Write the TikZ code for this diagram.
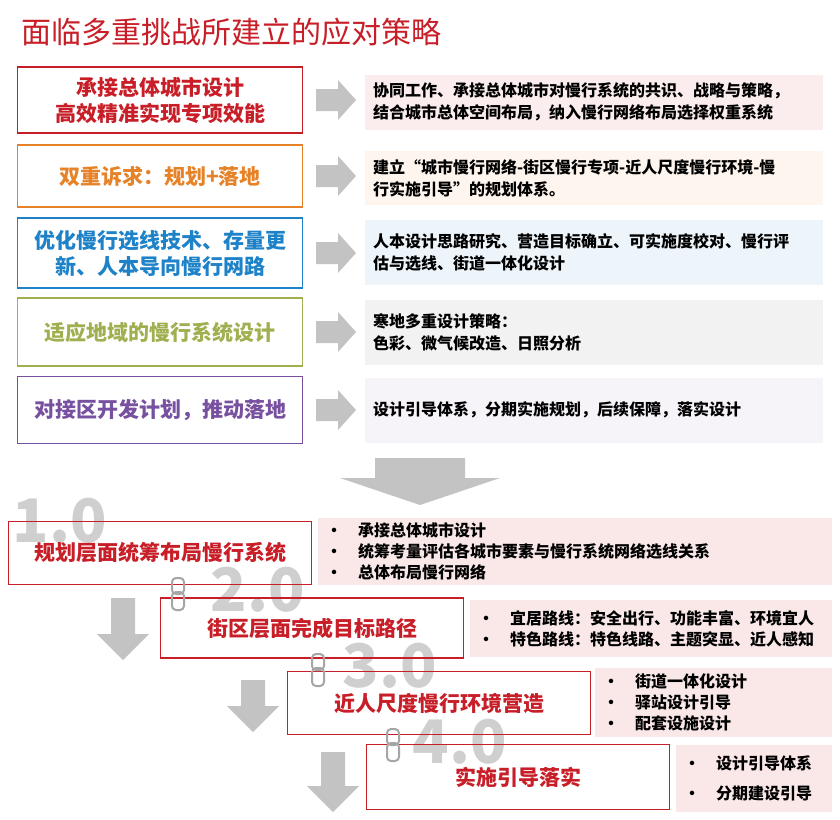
\documentclass[tikz,border=0pt]{standalone}
\usepackage{fontspec}
\setmainfont{Noto Sans CJK SC}
\usetikzlibrary{positioning}
\definecolor{cred}{RGB}{200, 30, 40}
\definecolor{corange}{RGB}{230, 130, 40}
\definecolor{cblue}{RGB}{30, 130, 200}
\definecolor{cgreen}{RGB}{160, 175, 80}
\definecolor{cpurple}{RGB}{120, 80, 160}
\definecolor{cgrey}{RGB}{195, 195, 195}
\tikzset{
    keybox/.style = {
      draw=#1,
      line width=1.4pt,
      fill=white,
      text=#1,
      minimum width=285pt,
      align=center,
      font=\fontsize{21}{26}\selectfont\bfseries
    },
    notebox/.style = {
      fill=#1,
      text width=442pt,
      inner sep=8pt,
      align=left,
      font=\fontsize{16}{22}\selectfont\bfseries
    },
    stepbox/.style = {
      draw=cred,
      line width=1.4pt,
      text=cred,
      minimum width=303pt,
      font=\fontsize{21}{25}\selectfont\bfseries
    },
    stepnote/.style = {
      fill=cred!10,
      anchor=north west,
      align=left,
      inner xsep=8pt,
      font=\fontsize{16}{21}\selectfont\bfseries
    },
    version/.style = {
      text=cgrey!80,
      font=\fontsize{60}{60}\selectfont\bfseries,
      inner sep=0pt
    },
    chain/.style = {
      draw=cgrey!85!black,
      line width=2pt,
      rounded corners=4pt
    },
    arrowfill/.style = {fill=cgrey},
}
\begin{document}
\begin{tikzpicture}[x=1pt, y=-1pt]
      \useasboundingbox[fill=white] (0,0) rectangle (840,819);
      \node[anchor=west, text=cred, font=\fontsize{30}{32}\selectfont] (title) at (18,32) {面临多重挑战所建立的应对策略};

      % upper part: challenges and answers
      \node[keybox=cred, minimum height=66pt] (k1) at (160,100) {承接总体城市设计\\高效精准实现专项效能};
      \node[keybox=corange, minimum height=62pt] (k2) at (160,176) {双重诉求：规划+落地};
      \node[keybox=cblue, minimum height=70pt] (k3) at (160,253) {优化慢行选线技术、存量更\\新、人本导向慢行网路};
      \node[keybox=cgreen, minimum height=68pt] (k4) at (160,332) {适应地域的慢行系统设计};
      \node[keybox=cpurple, minimum height=67pt] (k5) at (160,410) {对接区开发计划，推动落地};

      \node[notebox=cred!8, minimum height=55pt] (n1) at (594,102) {协同工作、承接总体城市对慢行系统的共识、战略与策略，\\结合城市总体空间布局，纳入慢行网络布局选择权重系统};
      \node[notebox=corange!8, minimum height=53pt] (n2) at (594,178) {建立“城市慢行网络-街区慢行专项-近人尺度慢行环境-慢\\行实施引导”的规划体系。};
      \node[notebox=cblue!8, minimum height=65pt] (n3) at (594,252) {人本设计思路研究、营造目标确立、可实施度校对、慢行评\\估与选线、街道一体化设计};
      \node[notebox=black!5, minimum height=65pt] (n4) at (594,332) {寒地多重设计策略：\\色彩、微气候改造、日照分析};
      \node[notebox=cpurple!6, minimum height=65pt] (n5) at (594,410) {设计引导体系，分期实施规划，后续保障，落实设计};

      \foreach \y in {100,176,253,332,410}
        \fill[arrowfill] (316,\y-11) -- (338,\y-11) -- (338,\y-20) -- (356,\y) -- (338,\y+20) -- (338,\y+11) -- (316,\y+11) -- cycle;

      \coordinate (bigtip) at (420,505);
      \fill[arrowfill] (375,458) -- (465,458) -- (465,478) -- (500,478) -- (bigtip) -- (340,478) -- (375,478) -- cycle;

      % lower part: steps
      \node[version] (v1) at (60,521) {1.0};
      \node[version] (v2) at (258,590) {2.0};
      \node[version] (v3) at (390,666) {3.0};
      \node[version] (v4) at (460,742) {4.0};

      \node[stepnote, text width=498pt, minimum height=67pt] (p1) at (318,518) {·\quad 承接总体城市设计\\·\quad 统筹考量评估各城市要素与慢行系统网络选线关系\\·\quad 总体布局慢行网络};
      \node[stepnote, text width=346pt, minimum height=57pt] (p2) at (470,600) {·\quad 宜居路线：安全出行、功能丰富、环境宜人\\·\quad 特色路线：特色线路、主题突显、近人感知};
      \node[stepnote, text width=221pt, minimum height=69pt] (p3) at (595,668) {·\quad 街道一体化设计\\·\quad 驿站设计引导\\·\quad 配套设施设计};
      \node[stepnote, text width=140pt, minimum height=67pt, font=\fontsize{16}{30}\selectfont\bfseries] (p4) at (676,745) {·\quad 设计引导体系\\·\quad 分期建设引导};

      \node[stepbox, minimum height=63pt] (s1) at (160,553) {规划层面统筹布局慢行系统};
      \node[stepbox, minimum height=60pt] (s2) at (312,628) {街区层面完成目标路径};
      \node[stepbox, minimum height=63pt] (s3) at (439,703) {近人尺度慢行环境营造};
      \node[stepbox, minimum height=65pt] (s4) at (518,777) {实施引导落实};

      \foreach \x/\y in {178/594,318/670,393/745}
      {
        \draw[chain] (\x-6,\y-16) rectangle (\x+6,\y);
        \draw[chain] (\x-6,\y-2) rectangle (\x+6,\y+16);
      }

      \foreach \x/\ya/\yb in {123/598/660,253/680/732,333/752/812}
        \fill[arrowfill] (\x-12,\ya) -- (\x+12,\ya) -- (\x+12,\yb-26) -- (\x+26,\yb-26) -- (\x,\yb) -- (\x-26,\yb-26) -- (\x-12,\yb-26) -- cycle;
    \end{tikzpicture}
\end{document}
